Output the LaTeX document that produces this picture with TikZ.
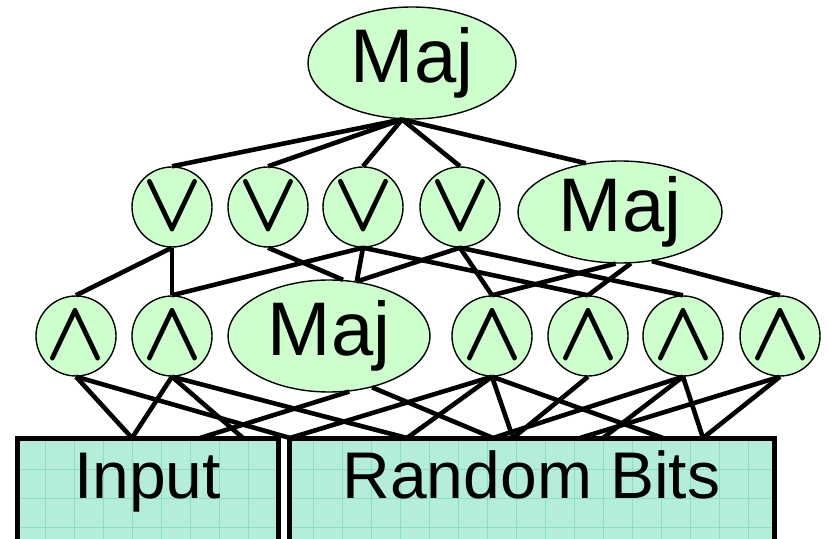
\documentclass[tikz,border=0pt]{standalone}
\usepackage{fontspec}
\setmainfont{Liberation Sans}
\usetikzlibrary{shapes.geometric}
\definecolor{gatefill}{HTML}{CCFFCC}
\definecolor{boxfill}{HTML}{B4EEDA}
\definecolor{boxgrid}{HTML}{8ADFC0}
\newcommand{\orsym}{\resizebox{30pt}{23.5pt}{\boldmath$\vee$}}
\newcommand{\andsym}{\resizebox{30pt}{23.5pt}{\boldmath$\wedge$}}

\begin{document}
\begin{tikzpicture}[x=0.5pt,y=-0.5pt,
    gate/.style={circle,draw,line width=0.7pt,fill=gatefill,minimum size=40pt,inner sep=0pt},
    majgate/.style={ellipse,draw,line width=0.7pt,fill=gatefill,inner sep=0pt,
        font=\fontsize{38}{38}\selectfont},
    wire/.style={line width=2.3pt},
    bitbox/.style={rectangle,draw,line width=2.5pt,fill=boxfill,inner sep=0pt,
        text height=0.72em,text depth=0pt,font=\fontsize{33}{33}\selectfont,
        path picture={\draw[boxgrid,line width=0.4pt,step=14.5pt]
            (path picture bounding box.south west) grid (path picture bounding box.north east);}}]
    \useasboundingbox (0,0) rectangle (829,539);
    \clip (0,0) rectangle (829,539);
        % output gate
        \node[majgate, minimum width=104pt, minimum height=56pt] (top) at (412,63) {Maj};
        % middle layer
        \node[gate] (or1) at (172,207) {\orsym};
        \node[gate] (or2) at (268,207) {\orsym};
        \node[gate] (or3) at (363,207) {\orsym};
        \node[gate] (or4) at (460,207) {\orsym};
        \node[majgate, minimum width=102pt, minimum height=51pt] (maj2) at (620,212) {Maj};
        % lower layer
        \node[gate] (and1) at (76,336) {\andsym};
        \node[gate] (and2) at (172,336) {\andsym};
        \node[majgate, minimum width=101pt, minimum height=56pt] (maj1) at (329,336) {Maj};
        \node[gate] (and3) at (492,336) {\andsym};
        \node[gate] (and4) at (588,336) {\andsym};
        \node[gate] (and5) at (683,336) {\andsym};
        \node[gate] (and6) at (780,336) {\andsym};
        % input boxes
        \node[bitbox, minimum width=130.5pt, minimum height=53.5pt] (input) at (147.5,491.5) {Input};
        \node[bitbox, minimum width=242.5pt, minimum height=53.5pt] (bits) at (531.5,491.5) {Random Bits};
        \coordinate (p132) at (132,438);
        \coordinate (p200) at (200,438);
        \coordinate (p243) at (243,438);
        \coordinate (p290) at (290,438);
        \coordinate (p407) at (407,438);
        \coordinate (p493) at (493,438);
        \coordinate (p513) at (513,438);
        \coordinate (p580) at (580,438);
        \coordinate (p603) at (603,438);
        \coordinate (p663) at (663,438);
        \coordinate (p703) at (703,438);
        % wires top
        \draw[wire] (top.-100) -- (or1.north);
        \draw[wire] (top.-100) -- (or2.north);
        \draw[wire] (top.-100) -- (or3.north);
        \draw[wire] (top.-100) -- (or4.north);
        \draw[wire] (top.-100) -- (maj2.125);
        % wires middle
        \draw[wire] (or1.south) -- (and1.north);
        \draw[wire] (or1.south) -- (and2.north);
        \draw[wire] (or2.south) -- (maj1.76);
        \draw[wire] (or3.south) -- (and2.north);
        \draw[wire] (or3.south) -- (maj1.63);
        \draw[wire] (or3.south) -- (and4.north);
        \draw[wire] (or4.south) -- (maj1.63);
        \draw[wire] (or4.south) -- (and3.north);
        \draw[wire] (or4.south) -- (and5.north);
        \draw[wire] (maj2.-95) -- (and3.north);
        \draw[wire] (maj2.-78) -- (and4.north);
        \draw[wire] (maj2.-57) -- (and6.north);
        % wires bottom
        \draw[wire] (and1.south) -- (p132);
        \draw[wire] (and1.south) -- (p290);
        \draw[wire] (and2.south) -- (p132);
        \draw[wire] (and2.south) -- (p243);
        \draw[wire] (and2.south) -- (p407);
        \draw[wire] (maj1.-70) -- (p200);
        \draw[wire] (maj1.-50) -- (p493);
        \draw[wire] (and3.south) -- (p290);
        \draw[wire] (and3.south) -- (p407);
        \draw[wire] (and3.south) -- (p513);
        \draw[wire] (and3.south) -- (p663);
        \draw[wire] (and4.south) -- (p513);
        \draw[wire] (and5.south) -- (p493);
        \draw[wire] (and5.south) -- (p603);
        \draw[wire] (and5.south) -- (p703);
        \draw[wire] (and6.south) -- (p580);
        \draw[wire] (and6.south) -- (p703);
    \end{tikzpicture}
\end{document}
